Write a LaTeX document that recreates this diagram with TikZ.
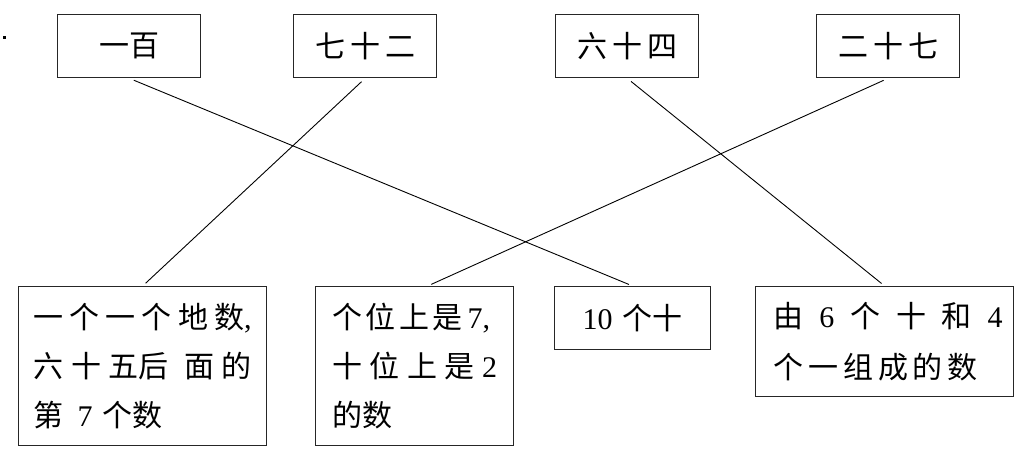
\documentclass[tikz,border=0pt]{standalone}
\usepackage{fontspec}
\setmainfont{Liberation Serif}
\newfontfamily\cjk{Noto Sans CJK SC}
\newcommand\dg[1]{{\rmfamily #1}}
\newcommand\jline[2]{\makebox[#1pt][s]{#2}}
\begin{document}
\begin{tikzpicture}[x=1pt,y=-1pt,
  box/.style={draw=black!85, line width=1.3pt, anchor=north west, inner ysep=0pt,
    font=\cjk\fontsize{30}{49}\selectfont},
  topbox/.style={box, minimum width=143pt, minimum height=63pt},
  link/.style={line width=0.9pt, shorten <=5pt, shorten >=4pt}]
\useasboundingbox (0,0) rectangle (1020,457);
\fill (3,36) rectangle (6,39);
% top row
\node[topbox] (t1) at (57,14) {一百};
\node[topbox] (t2) at (293,14) {\jline{100}{七\hfill 十\hfill 二}};
\node[topbox] (t3) at (555,14) {\jline{100}{六\hfill 十\hfill 四}};
\node[topbox] (t4) at (816,14) {\jline{100}{二\hfill 十\hfill 七}};
% bottom row
\node[box, minimum width=248pt, minimum height=159pt, text width=218pt, inner xsep=15pt, align=left] (b1) at (18,286)
  {\jline{218}{一\hfill 个\hfill 一\hfill 个\hfill 地\hfill 数\dg{,}}\\
   \jline{218}{六\hfill 十\hfill 五后\hfill\hfill 面\hfill 的}\\
   第\hspace{14pt}\dg{7}\hspace{10pt}个数};
\node[box, minimum width=198pt, minimum height=159pt, text width=165pt, inner xsep=16.5pt, align=left] (b2) at (315,286)
  {\jline{158}{个\hfill 位\hfill 上\hfill 是\dg{\,7,}}\\
   \jline{165}{十\hfill 位\hfill 上\hfill 是\hfill\dg{2}}\\
   的数};
\node[box, minimum width=156pt, minimum height=63pt] (b3) at (554,286)
  {\dg{10}\hspace{10pt}个十};
\node[box, minimum width=258pt, minimum height=110pt, text width=222pt, inner xsep=18pt, align=left,
  font=\cjk\fontsize{30}{51}\selectfont] (b4) at (755,286)
  {\jline{229}{由\hfill\dg{6}\hfill 个\hfill 十\hfill 和\hfill\dg{4}}\\
   \jline{204}{个\hfill 一\hfill 组\hfill 成\hfill 的\hfill 数}};
% connectors
\draw[link] (t1.south) -- (b3.north);
\draw[link] (t2.south) -- (b1.north);
\draw[link] (t3.south) -- (b4.north);
\draw[link] (t4.south) -- ([xshift=13pt]b2.north);
\end{tikzpicture}
\end{document}
